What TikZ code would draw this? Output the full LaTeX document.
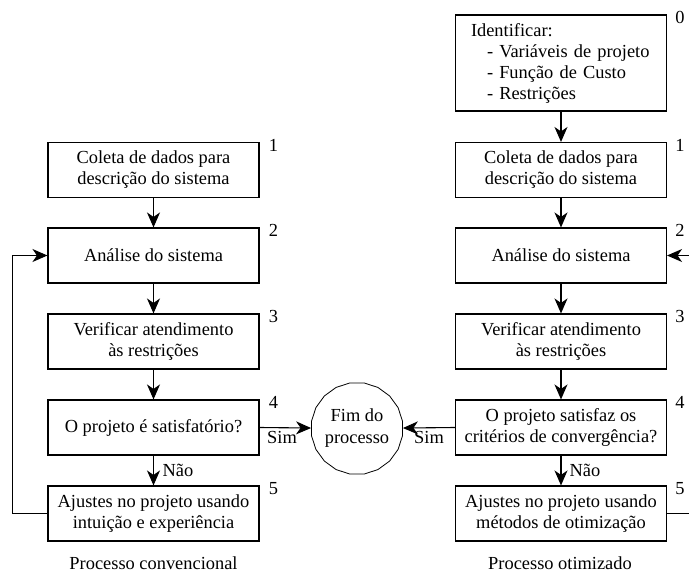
\documentclass[tikz,border=0pt]{standalone}
\usepackage{fontspec}
\setmainfont{Liberation Serif}
\usetikzlibrary{arrows.meta,shapes.geometric,calc}
\tikzset{
  box/.style={draw,line width=1.1pt,minimum width=211pt,minimum height=55pt,inner sep=0pt,align=center,font=\fontsize{18.4}{21}\selectfont},
  num/.style={font=\fontsize{18.4}{21}\selectfont,inner sep=0pt},
  lbl/.style={font=\fontsize{18.4}{21}\selectfont,inner sep=0pt},
  arr/.style={line width=1.1pt,-{Stealth[length=15pt,width=13pt,inset=4.5pt]}},
  ln/.style={line width=1.1pt},
}
\begin{document}
\begin{tikzpicture}[x=1pt,y=-1pt]
\useasboundingbox (0,0) rectangle (689,573);
% left column
\node[box] (l1) at (153.5,170) {Coleta de dados para\\descrição do sistema};
\node[box] (l2) at (153.5,255.5) {Análise do sistema};
\node[box] (l3) at (153.5,341.5) {Verificar atendimento\\às restrições};
\node[box] (l4) at (153.5,427.5) {O projeto é satisfatório?};
\node[box] (l5) at (153.5,513.5) {Ajustes no projeto usando\\intuição e experiência};
% right column
\node[box,minimum height=96pt,text width=180pt,align=left] (r0) at (561,63) {Identificar:\\\hspace*{16pt}- Variáveis de projeto\\\hspace*{16pt}- Função de Custo\\\hspace*{16pt}- Restrições};
\node[box] (r1) at (561,170) {Coleta de dados para\\descrição do sistema};
\node[box] (r2) at (561,255.5) {Análise do sistema};
\node[box] (r3) at (561,341.5) {Verificar atendimento\\às restrições};
\node[box] (r4) at (561,427.5) {O projeto satisfaz os\\critérios de convergência?};
\node[box] (r5) at (561,513.5) {Ajustes no projeto usando\\métodos de otimização};
% end node
\node[draw,regular polygon,regular polygon sides=20,minimum size=84pt,line width=0.8pt,inner sep=0pt,align=center,font=\fontsize{18.4}{22}\selectfont] (fim) at (357,428.5) {Fim do\\processo};
% numbers
\node[num] (n1) at ($(l1.north east)+(14,3)$) {1};
\node[num] (n2) at ($(l2.north east)+(14,3)$) {2};
\node[num] (n3) at ($(l3.north east)+(14,3)$) {3};
\node[num] (n4) at ($(l4.north east)+(14,3)$) {4};
\node[num] (n5) at ($(l5.north east)+(14,3)$) {5};
\node[num] (m0) at ($(r0.north east)+(13,3)$) {0};
\node[num] (m1) at ($(r1.north east)+(13,3)$) {1};
\node[num] (m2) at ($(r2.north east)+(13,3)$) {2};
\node[num] (m3) at ($(r3.north east)+(13,3)$) {3};
\node[num] (m4) at ($(r4.north east)+(13,3)$) {4};
\node[num] (m5) at ($(r5.north east)+(13,3)$) {5};
% arrows left
\draw[arr] (l1) -- (l2);
\draw[arr] (l2) -- (l3);
\draw[arr] (l3) -- (l4);
\draw[arr] (l4) -- (l5);
\draw[arr] (l5.west) -- ++(-35,0) |- (l2.west);
\draw[arr] (l4.east) -- (fim);
% arrows right
\draw[arr] (r0) -- (r1);
\draw[arr] (r1) -- (r2);
\draw[arr] (r2) -- (r3);
\draw[arr] (r3) -- (r4);
\draw[arr] (r4) -- (r5);
\draw[arr] (r4.west) -- (fim);
\coordinate (e5) at (689,513.5);
\coordinate (e2) at (689,255.5);
\draw[ln] (r5.east) -- (e5);
\draw[arr] (e2) -- (r2.east);
% labels
\node[lbl] (s1) at (282,437) {Sim};
\node[lbl] (s2) at (429,437) {Sim};
\node[lbl] (na1) at (178,470) {Não};
\node[lbl] (na2) at (585,470) {Não};
\node[lbl] (c1) at (153.5,563) {Processo convencional};
\node[lbl] (c2) at (560,563) {Processo otimizado};
\end{tikzpicture}
\end{document}
